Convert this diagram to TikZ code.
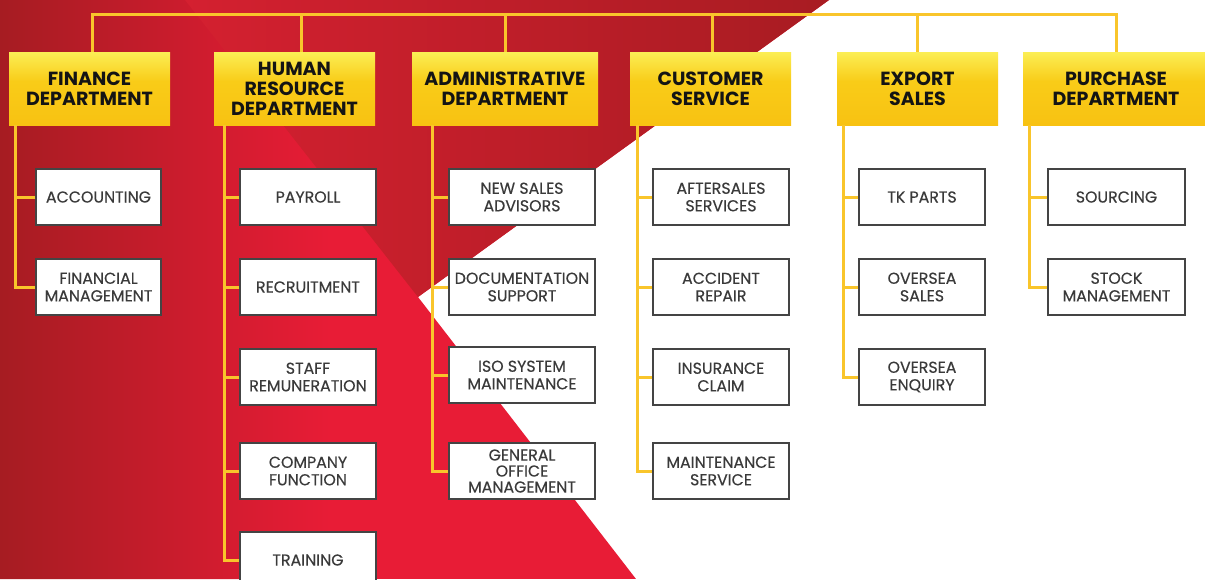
\documentclass[tikz,border=0pt]{standalone}
\usepackage{fontspec}
\setmainfont{Poppins}
\newfontfamily\subfont[FakeBold=0.35]{Poppins}
\definecolor{dred}{HTML}{A61C22}
\definecolor{bred}{HTML}{E81C36}
\definecolor{tredA}{HTML}{D42030}
\definecolor{tredB}{HTML}{A81C22}
\definecolor{gold}{HTML}{F9C52B}
\definecolor{ytop}{HTML}{FBEE55}
\definecolor{ymid}{HTML}{F9CC18}
\definecolor{ybot}{HTML}{F8C212}
\definecolor{txtgray}{HTML}{3A3A3A}
\definecolor{boxline}{HTML}{444444}
\pgfdeclareverticalshading{hdrshade}{100bp}{color(0bp)=(ybot); color(25bp)=(ybot); color(55bp)=(ymid); color(75bp)=(ytop); color(100bp)=(ytop)}
\tikzset{
  dept/.style={minimum height=73pt, inner sep=0pt, align=center,
    font=\fontsize{19}{20}\selectfont\bfseries, text=black!92, shading=hdrshade},
  sub/.style={draw=boxline, line width=1.2pt, fill=white, minimum height=56pt,
    inner sep=0pt, align=center, font=\subfont\fontsize{15.8}{17.5}\selectfont, text=txtgray},
  link/.style={draw=gold, line width=3pt},
}
\begin{document}
\begin{tikzpicture}[x=1pt,y=-1pt]
\useasboundingbox (0,0) rectangle (1205,579);
\clip (0,0) rectangle (1205,579);
% background
\fill[white] (0,0) rectangle (1205,579);
\begin{scope}
  \clip (0,0) -- (829,0) -- (418,297) -- (636,579) -- (0,579) -- cycle;
  \fill[bred] (0,0) rectangle (1205,579);
  \shade[left color=dred, right color=bred] (0,0) rectangle (330,579);
\end{scope}
\shade[left color=tredA, right color=tredB] (185,0) -- (829,0) -- (418,297) -- cycle;

% coordinates of bus, drops and spines
\coordinate (busL) at (92,14);
\coordinate (busR) at (1116,14);
\coordinate (hrD) at (301,14);
\coordinate (adD) at (505,14);
\coordinate (csD) at (712,14);
\coordinate (exD) at (917,14);
\coordinate (finS) at (15,125);
\coordinate (hrS) at (224,125);
\coordinate (adS) at (432,125);
\coordinate (csS) at (637,125);
\coordinate (exS) at (843,125);
\coordinate (puS) at (1029,125);

% department boxes
\node[dept, minimum width=161pt] (fin) at (89.5,88.5) {FINANCE\\DEPARTMENT};
\node[dept, minimum width=161pt] (hr) at (294.5,88.5) {HUMAN\\RESOURCE\\DEPARTMENT};
\node[dept, minimum width=186pt] (ad) at (505,88.5) {ADMINISTRATIVE\\DEPARTMENT};
\node[dept, minimum width=161pt] (cs) at (710.5,88.5) {CUSTOMER\\SERVICE};
\node[dept, minimum width=161pt] (ex) at (917.5,88.5) {EXPORT\\SALES};
\node[dept, minimum width=186pt] (pu) at (1116,88.5) {PURCHASE\\DEPARTMENT};

% connectors
\draw[link] (fin.north -| busL) -- (busL) -- (busR) -- (pu.north -| busR);
\draw[link] (hrD) -- (hrD |- hr.north);
\draw[link] (adD) -- (adD |- ad.north);
\draw[link] (csD) -- (csD |- cs.north);
\draw[link] (exD) -- (exD |- ex.north);

% sub boxes
\node[sub, minimum width=125pt] (fin1) at (98.5,197) {ACCOUNTING};
\node[sub, minimum width=125pt] (fin2) at (98.5,287) {FINANCIAL\\MANAGEMENT};

\node[sub, minimum width=136pt] (hr1) at (308,197) {PAYROLL};
\node[sub, minimum width=136pt] (hr2) at (308,287) {RECRUITMENT};
\node[sub, minimum width=136pt] (hr3) at (308,377) {STAFF\\REMUNERATION};
\node[sub, minimum width=136pt] (hr4) at (308,471) {COMPANY\\FUNCTION};
\node[sub, minimum width=136pt] (hr5) at (308,560) {TRAINING};

\node[sub, minimum width=146pt] (ad1) at (522,197) {NEW SALES\\ADVISORS};
\node[sub, minimum width=146pt] (ad2) at (522,287) {DOCUMENTATION\\SUPPORT};
\node[sub, minimum width=146pt] (ad3) at (522,375) {ISO SYSTEM\\MAINTENANCE};
\node[sub, minimum width=146pt, font=\subfont\fontsize{15.8}{16}\selectfont] (ad4) at (522,471) {GENERAL\\OFFICE\\MANAGEMENT};

\node[sub, minimum width=136pt] (cs1) at (721,197) {AFTERSALES\\SERVICES};
\node[sub, minimum width=136pt] (cs2) at (721,287) {ACCIDENT\\REPAIR};
\node[sub, minimum width=136pt] (cs3) at (721,377) {INSURANCE\\CLAIM};
\node[sub, minimum width=136pt] (cs4) at (721,471) {MAINTENANCE\\SERVICE};

\node[sub, minimum width=126pt] (ex1) at (922,197) {TK PARTS};
\node[sub, minimum width=126pt] (ex2) at (922,287) {OVERSEA\\SALES};
\node[sub, minimum width=126pt] (ex3) at (922,377) {OVERSEA\\ENQUIRY};

\node[sub, minimum width=137pt] (pu1) at (1116.5,197) {SOURCING};
\node[sub, minimum width=137pt] (pu2) at (1116.5,287) {STOCK\\MANAGEMENT};

\draw[link] (finS |- fin.south) |- (fin2.west);
\draw[link] (fin1.west) -- (fin1.west -| finS);

\draw[link] (hrS |- hr.south) |- (hr5.west);
\foreach \n in {hr1,hr2,hr3,hr4} \draw[link] (\n.west) -- (\n.west -| hrS);

\draw[link] (adS |- ad.south) |- (ad4.west);
\foreach \n in {ad1,ad2,ad3} \draw[link] (\n.west) -- (\n.west -| adS);

\draw[link] (csS |- cs.south) |- (cs4.west);
\foreach \n in {cs1,cs2,cs3} \draw[link] (\n.west) -- (\n.west -| csS);

\draw[link] (exS |- ex.south) |- (ex3.west);
\foreach \n in {ex1,ex2} \draw[link] (\n.west) -- (\n.west -| exS);

\draw[link] (puS |- pu.south) |- (pu2.west);
\draw[link] (pu1.west) -- (pu1.west -| puS);
\end{tikzpicture}
\end{document}
